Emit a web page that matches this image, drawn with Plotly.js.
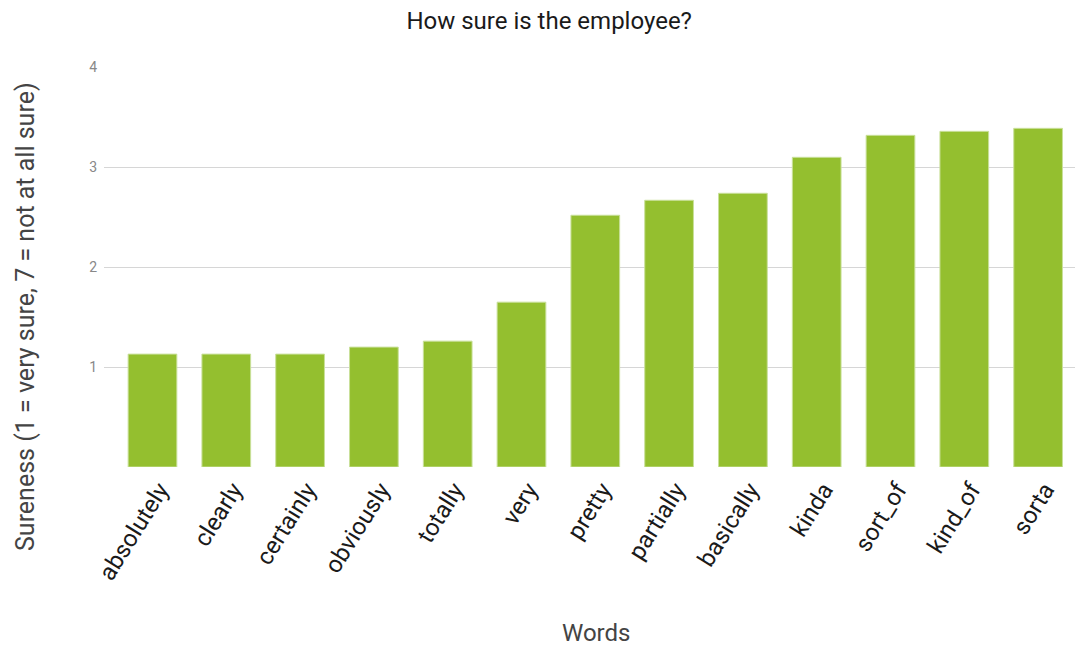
<!DOCTYPE html>
<html>
<head>
<meta charset="utf-8">
<script src="https://cdn.plot.ly/plotly-3.0.1.min.js"></script>
<style>html,body{margin:0;padding:0;background:#fff;}#chart{width:1079px;height:646px;}</style>
</head>
<body>
<div id="chart"></div>
<script>
const words = ["absolutely","clearly","certainly","obviously","totally","very","pretty","partially","basically","kinda","sort_of","kind_of","sorta"];
const sureness = [1.13,1.13,1.13,1.20,1.26,1.65,2.52,2.67,2.74,3.10,3.32,3.36,3.39];
const yTicks = [1,2,3,4];
const chartTitle = "How sure is the employee?";
const xTitle = "Words";
const yTitle = "Sureness (1 = very sure, 7 = not at all sure)";

const trace = {
  type: "bar",
  x: words,
  y: sureness,
  marker: {color: "#94bf2f", line: {color: "#c9e09a", width: 1}},
  hoverinfo: "x+y"
};

const layout = {
  width: 1079,
  height: 646,
  margin: {l: 104, r: 4, t: 67, b: 179},
  paper_bgcolor: "#ffffff",
  plot_bgcolor: "#ffffff",
  font: {family: "Roboto, 'Open Sans', sans-serif", color: "#222"},
  title: {text: chartTitle, font: {size: 24, color: "#1a1a1a"}, x: 0.509, xanchor: "center", y: 0.968, yanchor: "middle"},
  bargap: 0.34,
  showlegend: false,
  xaxis: {
    type: "category",
    range: [-0.657, 12.5],
    tickangle: -58,
    tickfont: {size: 24, color: "#1a1a1a"},
    ticklabelshift: 7,
    ticklabelstandoff: 3,
    showgrid: false,
    zeroline: false,
    showline: false,
    ticks: "",
    automargin: false
  },
  yaxis: {
    range: [0, 4.004],
    tickvals: yTicks,
    ticktext: yTicks.map(String),
    tickfont: {size: 14, color: "#888"},
    showgrid: true,
    gridcolor: "#d6d6d6",
    gridwidth: 1,
    zeroline: false,
    showline: false,
    ticks: "",
    ticklabelstandoff: 6,
    automargin: false
  },
  annotations: [
    {text: xTitle, xref: "paper", yref: "paper", x: (596 - 104) / 971, y: (467 - 633) / 400,
     xanchor: "center", yanchor: "middle", showarrow: false, font: {size: 24, color: "#444"}},
    {text: yTitle, xref: "paper", yref: "paper", x: (25 - 104) / 971, y: (467 - 317) / 400,
     xanchor: "center", yanchor: "middle", textangle: -90, showarrow: false, font: {size: 25, color: "#444"}}
  ]
};

Plotly.newPlot("chart", [trace], layout, {displayModeBar: false, staticPlot: true});
</script>
</body>
</html>
